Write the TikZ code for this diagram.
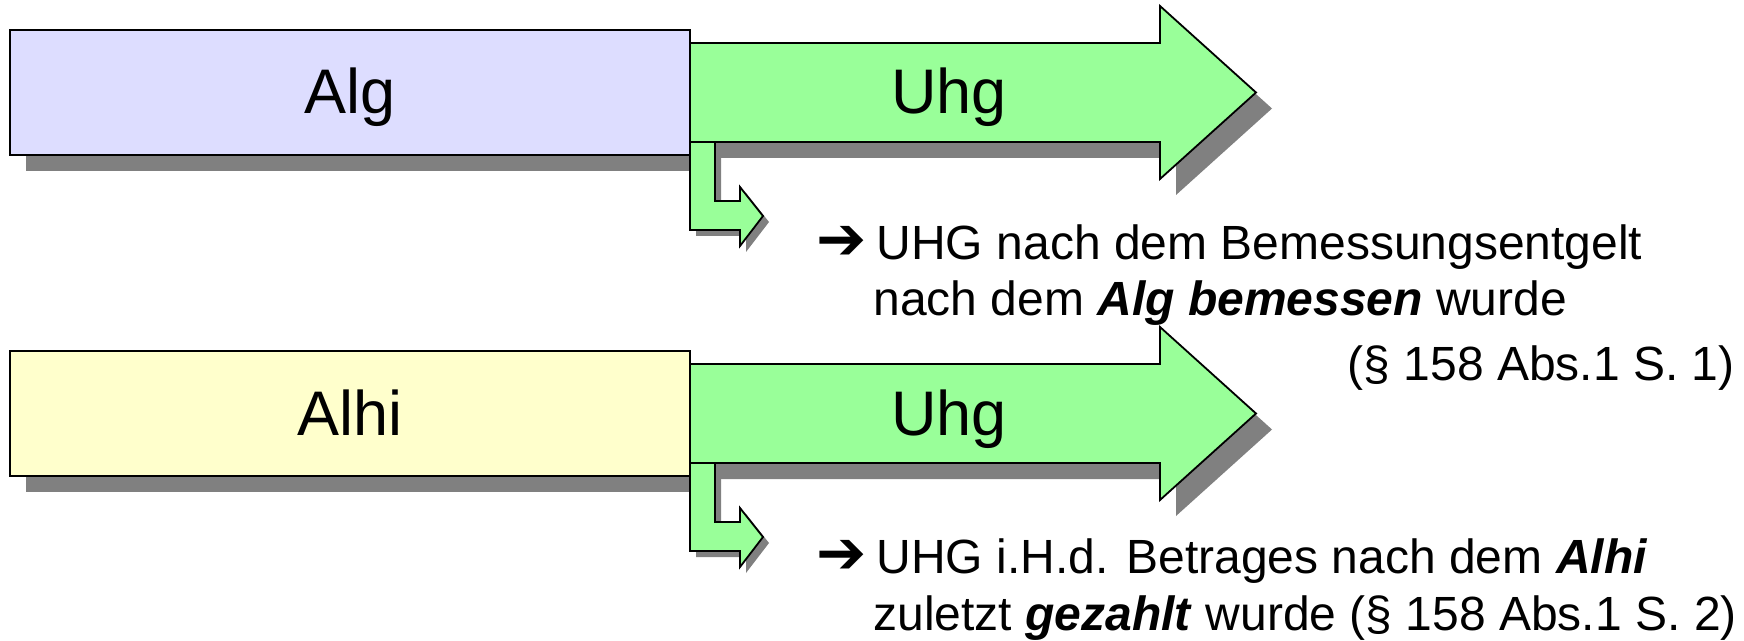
\documentclass[tikz,border=0pt]{standalone}
\usepackage{fontspec}
\setmainfont{Liberation Sans}
\newfontfamily\arrowfont{DejaVu Sans}
\usepackage{xcolor}

\definecolor{algblue}{HTML}{DDDDFF}
\definecolor{alhiyellow}{HTML}{FFFFCC}
\definecolor{uhggreen}{HTML}{99FF99}
\definecolor{shadowgray}{HTML}{808080}

% outlines of the two block arrows
\newcommand{\uhgpath}{(690,43) -- (1160,43) -- (1160,6) -- (1256,92.5) -- (1160,179) -- (1160,142) -- (690,142) -- cycle}
\newcommand{\bentpath}{(690,142) -- (690,230) -- (740,230) -- (740,246) -- (763,216) -- (740,187) -- (740,201) -- (715,201) -- (715,142) -- cycle}
\newcommand{\pointer}{{\arrowfont\fontsize{30}{30}\selectfont ➔}\hspace{5pt}}

\begin{document}
\begin{tikzpicture}[x=0.5pt, y=-0.5pt,
    outline/.style={draw=black, line width=0.9pt},
    shade/.style={fill=shadowgray},
    big/.style={font=\fontsize{31.5}{36}\selectfont, inner sep=0pt, anchor=base},
    body/.style={font=\fontsize{24}{29}\selectfont, inner sep=0pt, anchor=base west},
    ref/.style={font=\fontsize{24}{29}\selectfont, inner sep=0pt, anchor=base east}]
      \useasboundingbox (0,0) rectangle (1744,641);

      % Boxes with Uhg arrows
      \foreach \oy/\lab/\col in {0/Alg/algblue, 321/Alhi/alhiyellow} {
          \begin{scope}[shift={(0,\oy)}]
            \fill[shade] (26,46) rectangle (706,171);
            \draw[outline, fill=\col] (10,30) rectangle (690,155);
            \node[big] (box\lab) at (350,114) {\lab};

            \fill[shade, shift={(16,16)}] \uhgpath;
            \draw[outline, fill=uhggreen] \uhgpath;
            \node[big] (uhg\lab) at (949,114) {Uhg};

            \fill[shade, shift={(6,6)}] \bentpath;
            \draw[outline, fill=uhggreen] \bentpath;
          \end{scope}
        }

      % Text for Alg
      \node[body] (algline1) at (816,260) {\pointer UHG nach dem Bemessungsentgelt};
      \node[body] (algline2) at (873,316) {nach dem \textbf{\textit{Alg bemessen}} wurde};
      \node[ref] (algpar) at (1735,380) {(§ 158 Abs.1 S. 1)};

      % Text for Alhi
      \node[body] (alhiline1) at (816,573) {\pointer UHG i.H.d. Betrages nach dem \textbf{\textit{Alhi}}};
      \node[body] (alhiline2) at (873,630) {zuletzt \textbf{\textit{gezahlt}} wurde (§ 158 Abs.1 S. 2)};
    \end{tikzpicture}
\end{document}
